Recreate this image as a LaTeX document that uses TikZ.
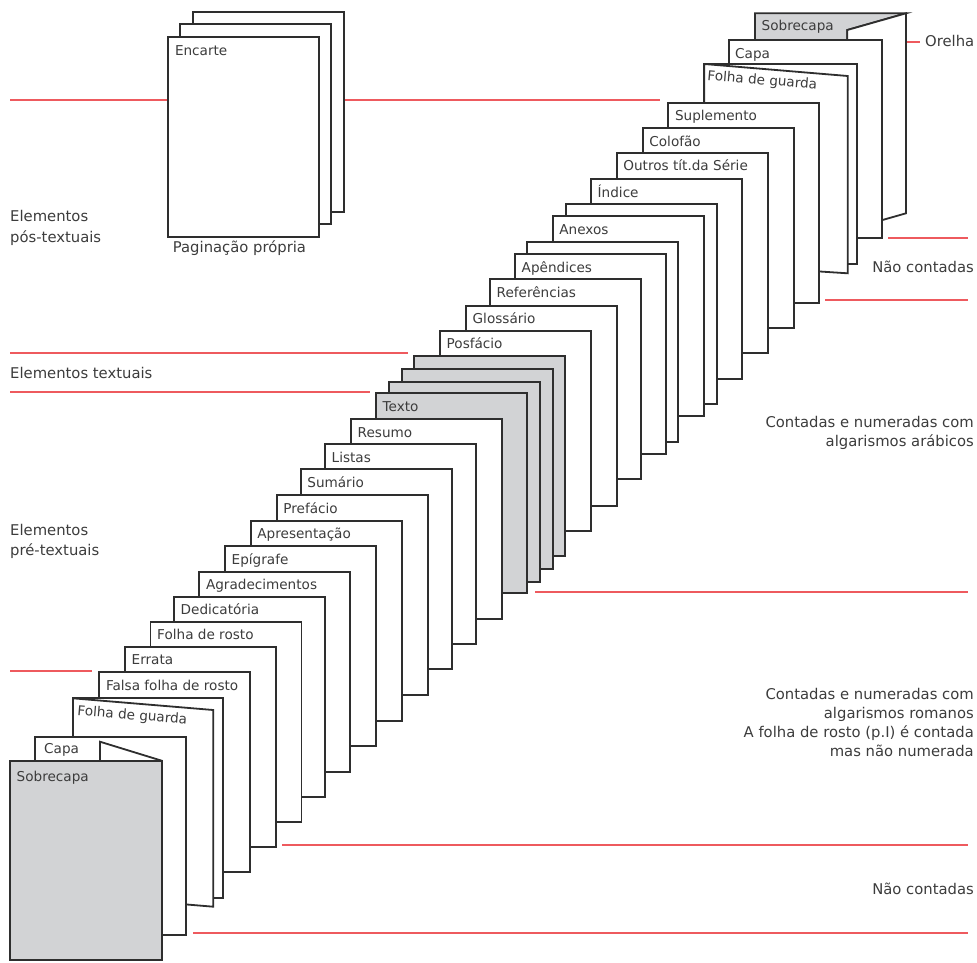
\documentclass[tikz,border=0pt]{standalone}
\usepackage{fontspec}
\setmainfont{DejaVu Sans}
\definecolor{pgline}{HTML}{2E2E2E}
\definecolor{pggray}{HTML}{D2D3D5}
\definecolor{redl}{HTML}{EE5A5E}
\definecolor{txt}{HTML}{3C3C3C}
\tikzset{
 sheet/.style={draw=pgline, line width=1.8pt, fill=white, line join=miter},
 graysheet/.style={sheet, fill=pggray},
 lbl/.style={anchor=base west, inner sep=0pt, text=txt, font=\fontsize{13.6}{16}\selectfont},
 side/.style={inner sep=0pt, text=txt, font=\fontsize{14.8}{20}\selectfont},
 redline/.style={draw=redl, line width=2pt},
}
\newcommand\pagina[5]{\draw[#5] (#2,#3) rectangle ++(151,200); \node[lbl] (#1) at (#2+6.5,#3+18) {#4};}
\newcommand\branca[3]{\draw[#3] (#1,#2) rectangle ++(151,200);}
\begin{document}
\begin{tikzpicture}[x=1pt,y=-1pt]
\useasboundingbox (0,0) rectangle (977,962);
% red separator lines
\coordinate (r1a) at (10,100);  \coordinate (r1b) at (660,100);
\coordinate (r2a) at (10,353);  \coordinate (r2b) at (408,353);
\coordinate (r3a) at (10,392);  \coordinate (r3b) at (370,392);
\coordinate (r4a) at (10,671);  \coordinate (r4b) at (92,671);
\coordinate (r5a) at (282,845); \coordinate (r5b) at (968,845);
\coordinate (r6a) at (193,933); \coordinate (r6b) at (968,933);
\coordinate (r7a) at (535,592); \coordinate (r7b) at (968,592);
\coordinate (r8a) at (825,300); \coordinate (r8b) at (968,300);
\coordinate (r9a) at (888,238); \coordinate (r9b) at (968,238);
\coordinate (r10a) at (892,41.7); \coordinate (r10b) at (920,41.7);
\foreach \i in {1,...,10} {\draw[redline] (r\i a) -- (r\i b);}
% Encarte
\branca{193.3}{11.7}{sheet}
\branca{180}{24.3}{sheet}
\pagina{encarte}{168.3}{37.3}{Encarte}{sheet}
\node[side, anchor=west] (pagprop) at (172.7,248) {Paginação própria};
% top-right Sobrecapa with flap
\draw[graysheet] (755,13.3) -- (906,13.3) -- (847.3,30) -- (847.3,230) -- (755,230) -- cycle;
\draw[sheet] (847.3,30) -- (906,13.3) -- (906,213.3) -- (847.3,230) -- cycle;
\node[lbl] (sobre2) at (761.5,30) {Sobrecapa};
% top-right Capa
\draw[sheet] (729.3,40) rectangle ++(152.4,198);
\node[lbl] (capa2) at (735,58) {Capa};
% top-right Folha de guarda (folded)
\draw[sheet] (704.3,64) rectangle (856.7,264);
\draw[sheet] (704.3,64) -- (847.7,76) -- (847.7,273.3) -- (704.3,264) -- cycle;
\node[lbl, rotate=-4.7] (guarda2) at (707,80) {Folha de guarda};
% main stack, back to front
\pagina{supl}{668.3}{102.7}{Suplemento}{sheet}
\pagina{colof}{642.7}{128.3}{Colofão}{sheet}
\pagina{outros}{616.7}{152.7}{Outros tít.da Série}{sheet}
\pagina{indice}{591}{179}{Índice}{sheet}
\branca{565.7}{204.3}{sheet}
\pagina{anexos}{552.7}{216}{Anexos}{sheet}
\branca{527.3}{241.7}{sheet}
\pagina{apend}{515}{254}{Apêndices}{sheet}
\pagina{refer}{490}{279.3}{Referências}{sheet}
\pagina{gloss}{466}{305.7}{Glossário}{sheet}
\pagina{posf}{440}{330.7}{Posfácio}{sheet}
\branca{414.3}{356}{graysheet}
\branca{401.7}{369.3}{graysheet}
\branca{389}{381.7}{graysheet}
\pagina{texto}{376}{393.3}{Texto}{graysheet}
\pagina{resumo}{351}{419.3}{Resumo}{sheet}
\pagina{listas}{325}{444}{Listas}{sheet}
\pagina{sumario}{300.7}{469.3}{Sumário}{sheet}
\pagina{prefacio}{276.7}{495}{Prefácio}{sheet}
\pagina{apres}{250.7}{520.7}{Apresentação}{sheet}
\pagina{epigr}{225}{546}{Epígrafe}{sheet}
\pagina{agrad}{199.3}{571.7}{Agradecimentos}{sheet}
\pagina{dedic}{174}{596.7}{Dedicatória}{sheet}
\pagina{rosto}{150.5}{621.7}{Folha de rosto}{sheet}
\pagina{errata}{125}{646.7}{Errata}{sheet}
\pagina{falsa}{99.3}{672.3}{Falsa folha de rosto}{sheet}
% bottom Folha de guarda (folded)
\draw[sheet] (73,698.3) rectangle (223.3,898.3);
\draw[sheet] (73,698.3) -- (213.3,710) -- (213.3,906.7) -- (73,895) -- cycle;
\node[lbl, rotate=-4.7] (guarda1) at (77,715) {Folha de guarda};
% bottom Capa
\draw[sheet] (35,736.7) rectangle (186,935);
\node[lbl] (capa1) at (44,753) {Capa};
% bottom Sobrecapa with flap
\draw[sheet] (100,741.7) -- (161.7,760.7) -- (161.7,950) -- (100,940) -- cycle;
\draw[graysheet] (10,760.7) rectangle (161.7,960);
\node[lbl] (sobre1) at (16.5,781) {Sobrecapa};
% side texts
\node[side, anchor=west, align=left, font=\fontsize{14.8}{21}\selectfont] (pos) at (10,227.5) {Elementos\\pós-textuais};
\node[side, anchor=west] (textuais) at (10,373) {Elementos textuais};
\node[side, anchor=west, align=left, font=\fontsize{14.8}{20}\selectfont] (pre) at (10,541) {Elementos\\pré-textuais};
\node[side, anchor=west] (orelha) at (925,41) {Orelha};
\node[side, anchor=east] (nc2) at (974,267) {Não contadas};
\node[side, anchor=east, align=right, font=\fontsize{14.8}{18.5}\selectfont] (arab) at (974,433) {Contadas e numeradas com\\algarismos arábicos};
\node[side, anchor=east, align=right, font=\fontsize{14.8}{19}\selectfont] (rom) at (974,722.5) {Contadas e numeradas com\\algarismos romanos\\A folha de rosto (p.I) é contada\\mas não numerada};
\node[side, anchor=east] (nc1) at (974,889) {Não contadas};
\end{tikzpicture}
\end{document}
